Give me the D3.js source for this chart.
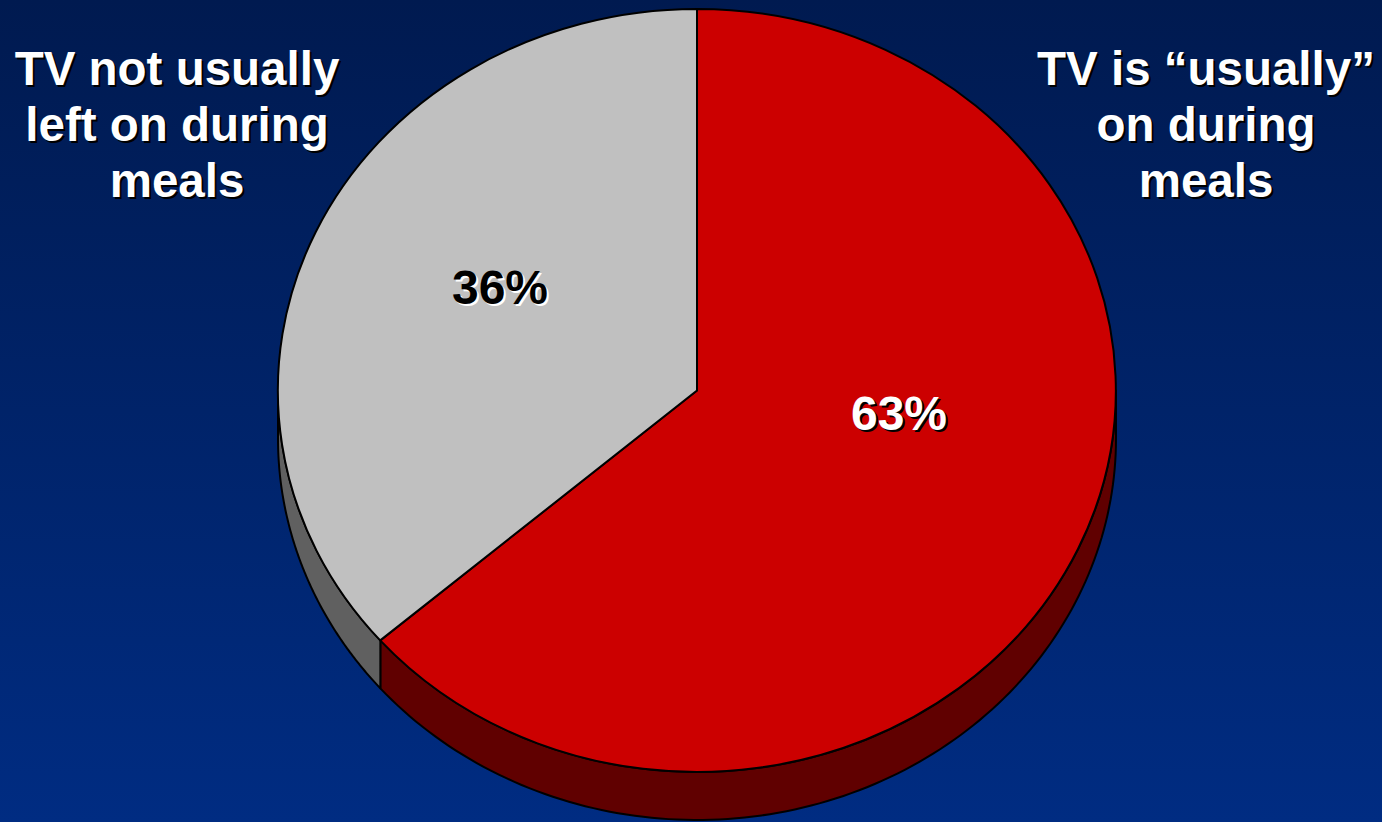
<!DOCTYPE html>
<html>
<head>
<meta charset="utf-8">
<script src="https://cdn.jsdelivr.net/npm/d3@7"></script>
<style>
  html, body { margin: 0; padding: 0; overflow: hidden; }
  body { width: 1382px; height: 822px; }
  svg { display: block; }
</style>
</head>
<body>
<svg id="chart" width="1382" height="822"></svg>
<script>
// Share of respondents by how the TV is used at meal times
const categories = ["TV is \u201cusually\u201d on during meals", "TV not usually left on during meals"];
const values = [63, 36];
const valueLabels = ["63%", "36%"];
const topColors = ["#cc0000", "#c0c0c0"];
const sideColors = ["#600000", "#606060"];
const labelFill = ["#ffffff", "#000000"];
const labelShadow = ["#000000", "#ffffff"];
const categoryLines = [
  ["TV is \u201cusually\u201d", "on during", "meals"],
  ["TV not usually", "left on during", "meals"]
];

const W = 1382, H = 822;
const cx = 697, cy = 390.5, rx = 419, ry = 381.5, depth = 48;
const svg = d3.select("#chart");

// Background gradient
const defs = svg.append("defs");
const bg = defs.append("linearGradient").attr("id", "bg")
  .attr("x1", 0).attr("y1", 0).attr("x2", 0).attr("y2", 1);
bg.append("stop").attr("offset", 0).attr("stop-color", "#001a50");
bg.append("stop").attr("offset", 1).attr("stop-color", "#002c82");
svg.append("rect").attr("width", W).attr("height", H).attr("fill", "url(#bg)");

const pie = d3.pie().sort(null).value(d => d).startAngle(0).endAngle(2 * Math.PI);
const arcs = pie(values);

// Point on the rim of the ellipse; angle measured clockwise from 12 o'clock
const rim = (a, dy = 0) => [cx + rx * Math.sin(a), cy - ry * Math.cos(a) + dy];

// Side walls: only the front half of the rim (angles π/2 … 3π/2) is visible
const sides = svg.append("g");
arcs.forEach((d, i) => {
  const a0 = Math.max(d.startAngle, Math.PI / 2);
  const a1 = Math.min(d.endAngle, 3 * Math.PI / 2);
  if (a1 <= a0) return;
  const n = 120;
  const angles = d3.range(n + 1).map(k => a0 + (a1 - a0) * k / n);
  const pts = angles.map(a => rim(a)).concat(angles.slice().reverse().map(a => rim(a, depth)));
  sides.append("path")
    .attr("d", d3.line()(pts) + "Z")
    .attr("fill", sideColors[i])
    .attr("stroke", "#000")
    .attr("stroke-width", 2)
    .attr("stroke-linejoin", "round");
});

// Top face of the pie
const arcGen = d3.arc().innerRadius(0).outerRadius(1);
svg.append("g")
  .attr("transform", `translate(${cx},${cy}) scale(${rx},${ry})`)
  .selectAll("path")
  .data(arcs)
  .join("path")
  .attr("d", arcGen)
  .attr("fill", (d, i) => topColors[i])
  .attr("stroke", "#000")
  .attr("stroke-width", 2)
  .attr("vector-effect", "non-scaling-stroke")
  .attr("stroke-linejoin", "round");

const font = "'Liberation Sans', Arial, Helvetica, sans-serif";

// Percentage labels inside the slices
const valuePos = [[899, 430], [500, 304]];
const vl = svg.append("g").attr("font-family", font).attr("font-weight", "bold")
  .attr("font-size", 48).attr("text-anchor", "middle");
arcs.forEach((d, i) => {
  const [x, y] = valuePos[i];
  vl.append("text").attr("x", x + 2).attr("y", y + 2).attr("fill", labelShadow[i]).text(valueLabels[i]);
  vl.append("text").attr("x", x).attr("y", y).attr("fill", labelFill[i]).text(valueLabels[i]);
});

// Category labels in the upper corners
const catX = [1206, 177];
const baseline0 = 85, lineGap = 56;
const cl = svg.append("g").attr("font-family", font).attr("font-weight", "bold")
  .attr("font-size", 47.5).attr("text-anchor", "middle");
categoryLines.forEach((lines, i) => {
  lines.forEach((t, j) => {
    const y = baseline0 + j * lineGap;
    cl.append("text").attr("x", catX[i] + 2).attr("y", y + 2).attr("fill", "#000").text(t);
    cl.append("text").attr("x", catX[i]).attr("y", y).attr("fill", "#fff").text(t);
  });
});
</script>
</body>
</html>
